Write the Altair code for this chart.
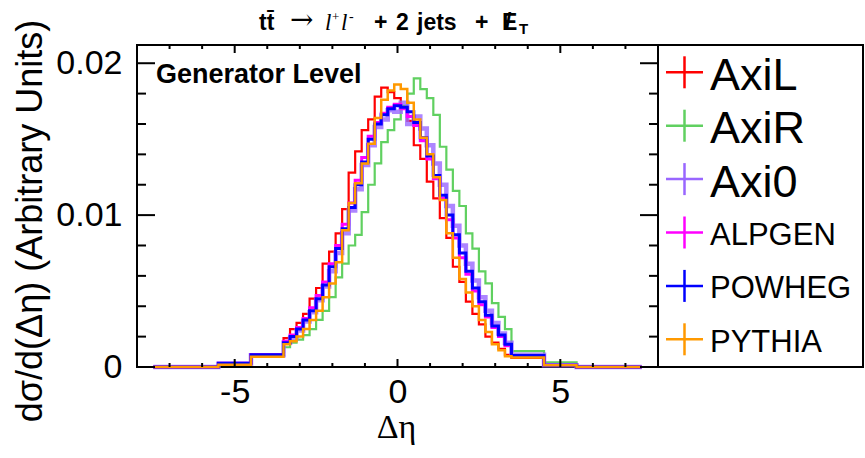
import altair as alt
import pandas as pd

# ---------------- data ----------------
series_names = ["AxiL", "AxiR", "Axi0", "ALPGEN", "POWHEG", "PYTHIA"]
series_colors = ["#ff0000", "#60d060", "#9966ff", "#ff00ff", "#0000ff", "#ff9900"]

# bin edges: unit-wide tail bins, 0.2-wide core bins
left_tail_edges = [-7.5, -6.5, -5.5, -4.5, -3.5]
core_edges = [round(-3.5 + 0.2 * k, 1) for k in range(1, 35)]
right_tail_edges = [3.5, 4.5, 5.5, 6.5, 7.5]
edges = left_tail_edges + core_edges + right_tail_edges

axil = [0, 0, 0.00025, 0.00085,
        0.0019, 0.0025, 0.0029, 0.0035, 0.0045, 0.0052, 0.0068, 0.0076, 0.0088, 0.0104,
        0.0128, 0.0142, 0.0156, 0.0163, 0.0178, 0.0184, 0.0181, 0.0177, 0.0171, 0.0162,
        0.0146, 0.0137, 0.0122, 0.0111, 0.0098, 0.0085, 0.0066, 0.0056, 0.0043, 0.0035,
        0.0028, 0.0020, 0.0016, 0.0012, 0.0008,
        0.0006, 0.00012, 0, 0]
axir = [0, 0, 0.0002, 0.0007,
        0.0013, 0.0016, 0.0018, 0.0021, 0.0025, 0.0031, 0.0037, 0.0046, 0.0059, 0.0068,
        0.0080, 0.0087, 0.0102, 0.0120, 0.0134, 0.0148, 0.0156, 0.0163, 0.0172, 0.0180,
        0.0190, 0.0183, 0.0177, 0.0166, 0.0145, 0.0130, 0.0116, 0.0106, 0.0088, 0.0078,
        0.0063, 0.0055, 0.0042, 0.0033, 0.0025,
        0.00105, 0.0003, 0, 0]
axi0 = [0, 0, 0.00022, 0.00078,
        0.0016, 0.0019, 0.0024, 0.0030, 0.0036, 0.0044, 0.0053, 0.0063, 0.0075, 0.0088,
        0.0103, 0.0117, 0.0133, 0.0146, 0.0158, 0.0163, 0.0169, 0.0168, 0.0174, 0.0160,
        0.0165, 0.0157, 0.0146, 0.0134, 0.0120, 0.0106, 0.0093, 0.0080, 0.0068, 0.0057,
        0.0046, 0.0037, 0.0029, 0.0022, 0.0016,
        0.0008, 0.00012, 0, 0]
alpgen = [0, 0, 0.00024, 0.0008,
          0.0017, 0.0021, 0.0026, 0.0032, 0.0039, 0.0047, 0.0056, 0.0068, 0.0080, 0.0094,
          0.0108, 0.0123, 0.0138, 0.0152, 0.0161, 0.0167, 0.0171, 0.0173, 0.0170, 0.0165,
          0.0159, 0.0149, 0.0137, 0.0124, 0.0111, 0.0097, 0.0085, 0.0072, 0.0061, 0.0050,
          0.0041, 0.0033, 0.0026, 0.0020, 0.0014,
          0.0007, 0.00012, 0, 0]
powheg = [0, 0, 0.00024, 0.0008,
          0.0016, 0.0020, 0.0025, 0.0031, 0.0037, 0.0045, 0.0054, 0.0066, 0.0078, 0.0091,
          0.0105, 0.0120, 0.0135, 0.0150, 0.0160, 0.0166, 0.0170, 0.0172, 0.0171, 0.0168,
          0.0161, 0.0151, 0.0139, 0.0126, 0.0113, 0.0100, 0.0087, 0.0075, 0.0063, 0.0052,
          0.0043, 0.0034, 0.0027, 0.0021, 0.0015,
          0.00075, 0.00012, 0, 0]
pythia = [0, 0, 0.00015, 0.00068,
          0.0015, 0.0017, 0.0020, 0.0025, 0.0031, 0.0037, 0.0046, 0.0055, 0.0069, 0.0090,
          0.0108, 0.0121, 0.0134, 0.0147, 0.0164, 0.0176, 0.0182, 0.0186, 0.0183, 0.0174,
          0.0163, 0.0151, 0.0140, 0.0125, 0.0110, 0.0088, 0.0072, 0.0058, 0.0049, 0.0040,
          0.0031, 0.0023, 0.0015, 0.0011, 0.0007,
          0.00062, 0.00012, 0, 0]
series_values = [axil, axir, axi0, alpgen, powheg, pythia]

x_major = [-5, 0, 5]
x_minor = [-7, -6, -4, -3, -2, -1, 1, 2, 3, 4, 6, 7]
y_major = [0, 0.01, 0.02]
y_minor = [0.002, 0.004, 0.006, 0.008, 0.012, 0.014, 0.016, 0.018]

# ---------------- layout / style ----------------
W, H = 521, 322
LEG_R = 726
SANS = "Liberation Sans"
SERIF = "Liberation Serif"
line_widths = [2.2, 2.2, 4.5, 3.0, 3.0, 2.5]
line_opacity = [1, 1, 0.8, 1, 1, 1]

xscale = alt.Scale(domain=[-8, 8], nice=False, zero=False)
yscale = alt.Scale(domain=[0, 0.0212], nice=False, zero=False)

x_axis = alt.Axis(values=x_major,
                  labelExpr="datum.value < 0 ? '-' + abs(datum.value) : '' + datum.value",
                  ticks=False, domain=False, grid=False, labelFont=SANS, labelFontSize=34,
                  labelColor="black", labelPadding=8, labelOverlap=False, labelFlush=False,
                  title=None)
y_axis = alt.Axis(values=y_major, format=".2~f", ticks=False, domain=False, grid=False,
                  labelFont=SANS, labelFontSize=34, labelColor="black", labelPadding=15,
                  labelOverlap=False, labelFlush=False, title=None)

one = pd.DataFrame({"k": [0]})


def txt(text, x, y, size, font=SANS, weight="normal", style="normal", align="left",
        baseline="alphabetic", angle=0, color="black"):
    kw = dict(text=text, font=font, fontSize=size, fontWeight=weight, fontStyle=style,
              align=align, baseline=baseline, color=color)
    if angle:
        kw["angle"] = angle
    return alt.Chart(one).mark_text(**kw).encode(x=alt.value(x), y=alt.value(y))


def X(field):
    return alt.X(field, scale=xscale, axis=x_axis)


def Y(field):
    return alt.Y(field, scale=yscale, axis=y_axis)


layers = []

# histograms (step lines)
for idx, (name, color, vals) in enumerate(zip(series_names, series_colors, series_values)):
    ys = list(vals) + [vals[-1]]
    d = pd.DataFrame({"x": edges, "y": ys, "i": list(range(len(edges)))})
    layers.append(
        alt.Chart(d).mark_line(interpolate="step-after", color=color,
                               strokeWidth=line_widths[idx], opacity=line_opacity[idx],
                               strokeJoin="miter", strokeCap="butt").encode(
            x=X("x:Q"), y=Y("y:Q"), order=alt.Order("i:Q"))
    )

# inward ticks
xmaj = pd.DataFrame({"x": x_major})
xmin = pd.DataFrame({"x": x_minor})
ymaj = pd.DataFrame({"y": y_major})
ymin = pd.DataFrame({"y": y_minor})
tick = dict(color="black", strokeWidth=2)
for df, ln in [(xmaj, 8), (xmin, 4)]:
    layers.append(alt.Chart(df).mark_rule(**tick).encode(
        x=X("x:Q"), y=alt.value(H), y2=alt.value(H - ln)))
    layers.append(alt.Chart(df).mark_rule(**tick).encode(
        x=X("x:Q"), y=alt.value(0), y2=alt.value(ln)))
for df, ln in [(ymaj, 18), (ymin, 9)]:
    layers.append(alt.Chart(df).mark_rule(**tick).encode(
        y=Y("y:Q"), x=alt.value(0), x2=alt.value(ln)))
    layers.append(alt.Chart(df).mark_rule(**tick).encode(
        y=Y("y:Q"), x=alt.value(W), x2=alt.value(W - ln)))

# legend box
layers.append(alt.Chart(one).mark_rect(fill="white", fillOpacity=0, stroke="black",
                                       strokeWidth=2).encode(
    x=alt.value(W), x2=alt.value(LEG_R), y=alt.value(0), y2=alt.value(H)))

# legend entries
for i, (name, color) in enumerate(zip(series_names, series_colors)):
    cy = 27.3 + 53.4 * i
    big = i < 3
    layers.append(alt.Chart(one).mark_rule(color=color, strokeWidth=2.5).encode(
        x=alt.value(529), x2=alt.value(566), y=alt.value(cy)))
    layers.append(alt.Chart(one).mark_rule(color=color, strokeWidth=2.5).encode(
        x=alt.value(547.5), y=alt.value(cy - 16), y2=alt.value(cy + 16)))
    layers.append(txt(name, 573, cy + (17.7 if big else 12.3), 45 if big else 31))

# texts
layers.append(txt("Generator Level", 19, 38, 27, weight="bold"))
layers.append(txt("d\u03c3/d(\u0394\u03b7) (Arbitrary Units)", -106, 176, 36,
                  angle=270, align="center", baseline="middle"))
layers.append(txt("\u0394\u03b7", 259.5, 393, 34, font=SERIF, align="center"))

# title pieces
TY = -15
layers.append(txt("tt\u0304", 122, TY, 23, weight="bold"))
layers.append(txt("\u2192", 153, TY - 1, 28, font="DejaVu Serif"))
layers.append(txt("l", 188, TY, 23, font=SERIF, style="italic"))
layers.append(txt("+", 195, TY - 9, 13, font=SERIF))
layers.append(txt("l", 204, TY, 23, font=SERIF, style="italic"))
layers.append(txt("-", 212, TY - 9, 14, font=SERIF))
layers.append(txt("+", 237, TY, 23, weight="bold"))
layers.append(txt("2", 259, TY, 23, weight="bold"))
layers.append(txt("jets", 280, TY, 23, weight="bold"))
layers.append(txt("+", 338, TY, 23, weight="bold"))
layers.append(txt("E", 365, TY, 23, weight="bold"))
layers.append(txt("/", 368, TY, 23, weight="bold"))
layers.append(txt("T", 382, TY + 4, 15, weight="bold"))

chart = alt.layer(*layers).properties(
    width=W, height=H,
    padding={"left": 137, "top": 45, "right": 207, "bottom": 91},
    autosize=alt.AutoSizeParams(type="none"),
    background="white",
).configure_view(stroke="black", strokeWidth=2)

chart.save("out.html", embed_options={"renderer": "svg", "actions": False})
